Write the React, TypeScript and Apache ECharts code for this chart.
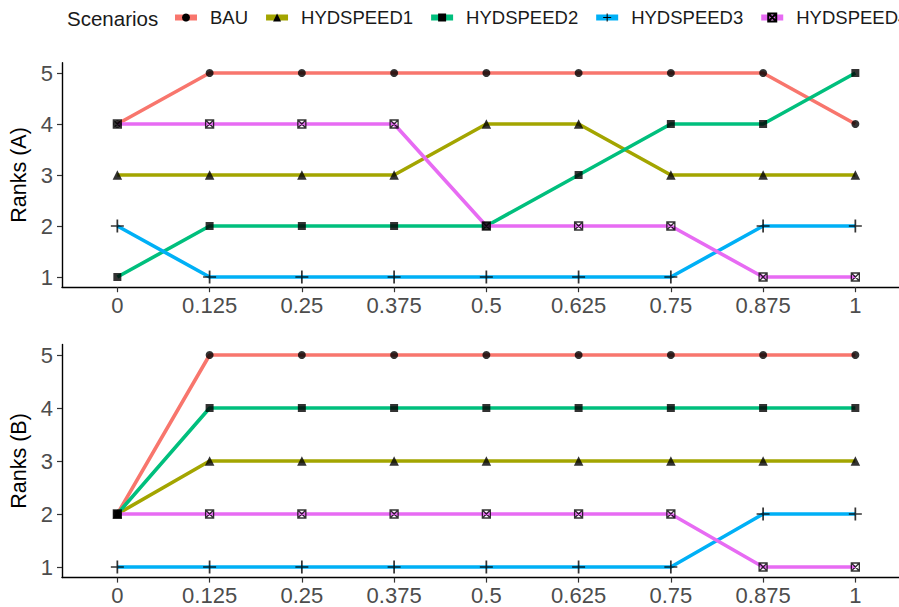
import React, { useEffect, useRef } from "react";
import * as echarts from "echarts";

const xValues = [0, 0.125, 0.25, 0.375, 0.5, 0.625, 0.75, 0.875, 1];
const yTicks = [1, 2, 3, 4, 5];
const scenarios = ["BAU", "HYDSPEED1", "HYDSPEED2", "HYDSPEED3", "HYDSPEED4"];

// Panel A ranks
const rankA_BAU = [4, 5, 5, 5, 5, 5, 5, 5, 4];
const rankA_H1 = [3, 3, 3, 3, 4, 4, 3, 3, 3];
const rankA_H2 = [1, 2, 2, 2, 2, 3, 4, 4, 5];
const rankA_H3 = [2, 1, 1, 1, 1, 1, 1, 2, 2];
const rankA_H4 = [4, 4, 4, 4, 2, 2, 2, 1, 1];

// Panel B ranks
const rankB_BAU = [2, 5, 5, 5, 5, 5, 5, 5, 5];
const rankB_H1 = [2, 3, 3, 3, 3, 3, 3, 3, 3];
const rankB_H2 = [2, 4, 4, 4, 4, 4, 4, 4, 4];
const rankB_H3 = [1, 1, 1, 1, 1, 1, 1, 2, 2];
const rankB_H4 = [2, 2, 2, 2, 2, 2, 2, 1, 1];

const panelA = [rankA_BAU, rankA_H1, rankA_H2, rankA_H3, rankA_H4];
const panelB = [rankB_BAU, rankB_H1, rankB_H2, rankB_H3, rankB_H4];
const panelNames = ["Ranks (A)", "Ranks (B)"];

const COLORS = ["#F8766D", "#A3A500", "#00BF7D", "#00B0F6", "#E76BF3"];
const PLUS =
  "path://M5.2,0 L6.8,0 L6.8,5.2 L12,5.2 L12,6.8 L6.8,6.8 L6.8,12 L5.2,12 L5.2,6.8 L0,6.8 L0,5.2 L5.2,5.2 Z";
const SQX = "path://M0,0 L10,0 L10,10 L0,10 Z M0,0 L10,10 M10,0 L0,10";
const SYMBOLS = ["circle", "triangle", "rect", PLUS, SQX];
const SYMBOL_SIZES = [8, 9.5, 8, 13, 8];
const FONT = "'Liberation Sans', Arial, Helvetica, sans-serif";

function itemStyleFor(i: number) {
  if (i === 4) {
    return { color: "rgba(0,0,0,0)", borderColor: "#000", borderWidth: 1.3 };
  }
  return { color: "#000", borderWidth: 0 };
}

export default function App() {
  const ref = useRef<HTMLDivElement>(null);

  useEffect(() => {
    document.body.style.margin = "0";
    document.body.style.overflow = "hidden";
    if (!ref.current) return;
    const chart = echarts.init(ref.current, undefined, { renderer: "svg" });

    const grids = [
      { left: 62, top: 62.8, width: 848.7, height: 224.4, outerBoundsMode: "none", containLabel: false },
      { left: 62, top: 344.4, width: 848.7, height: 233.2, outerBoundsMode: "none", containLabel: false },
    ];

    const xAxes = grids.map((_, gi) => ({
      type: "value",
      gridIndex: gi,
      min: -0.075,
      max: 1.075,
      splitLine: { show: false },
      axisLine: { show: true, onZero: false, lineStyle: { color: "#000", width: 1.4 } },
      axisTick: {
        show: true,
        length: 5,
        customValues: xValues,
        lineStyle: { color: "#333", width: 1.2 },
      },
      axisLabel: {
        customValues: xValues,
        formatter: (v: number) => String(v),
        color: "#4D4D4D",
        fontSize: 22,
        fontFamily: FONT,
        margin: 7,
      },
    }));

    const yAxes = grids.map((_, gi) => ({
      type: "value",
      gridIndex: gi,
      min: 0.8,
      max: 5.2,
      name: panelNames[gi],
      nameLocation: "middle",
      nameGap: 26,
      nameTextStyle: { color: "#000", fontSize: 21.5, fontFamily: FONT },
      splitLine: { show: false },
      axisLine: { show: true, onZero: false, lineStyle: { color: "#000", width: 1.4 } },
      axisTick: {
        show: true,
        length: 5,
        customValues: yTicks,
        lineStyle: { color: "#333", width: 1.2 },
      },
      axisLabel: {
        customValues: yTicks,
        color: "#4D4D4D",
        fontSize: 22,
        fontFamily: FONT,
        margin: 9,
      },
    }));

    const series: any[] = [];
    [panelA, panelB].forEach((panel, pi) => {
      panel.forEach((vals, si) => {
        series.push({
          type: "line",
          name: scenarios[si],
          xAxisIndex: pi,
          yAxisIndex: pi,
          data: xValues.map((x, k) => [x, vals[k]]),
          showSymbol: false,
          symbol: SYMBOLS[si],
          symbolSize: SYMBOL_SIZES[si],
          lineStyle: { color: COLORS[si], width: 3.6 },
          itemStyle: itemStyleFor(si),
          z: 2,
          silent: true,
        });
      });
    });
    [panelA, panelB].forEach((panel, pi) => {
      panel.forEach((vals, si) => {
        series.push({
          type: "scatter",
          name: scenarios[si],
          xAxisIndex: pi,
          yAxisIndex: pi,
          data: xValues.map((x, k) => [x, vals[k]]),
          symbol: SYMBOLS[si],
          symbolSize: SYMBOL_SIZES[si],
          itemStyle: itemStyleFor(si),
          z: 3,
          silent: true,
        });
      });
    });

    chart.setOption({
      animation: false,
      backgroundColor: "#fff",
      grid: grids,
      xAxis: xAxes,
      yAxis: yAxes,
      legend: {
        left: 172,
        top: 8,
        width: 1400,
        orient: "horizontal",
        padding: 0,
        itemWidth: 22,
        itemHeight: 10,
        itemGap: 15,
        selectedMode: false,
        data: scenarios,
        lineStyle: { width: 6 },
        textStyle: {
          fontSize: 18.5,
          color: "#1A1A1A",
          fontFamily: FONT,
          padding: [0, 0, 0, 8],
        },
      },
      graphic: [
        {
          type: "text",
          x: 67,
          y: 18.5,
          style: {
            text: "Scenarios",
            fontSize: 20.5,
            fontFamily: FONT,
            fill: "#1A1A1A",
            textAlign: "left",
            textVerticalAlign: "middle",
            verticalAlign: "middle",
          },
        },
      ],
      series,
    });

    return () => chart.dispose();
  }, []);

  return <div ref={ref} style={{ width: 899, height: 607 }} />;
}
